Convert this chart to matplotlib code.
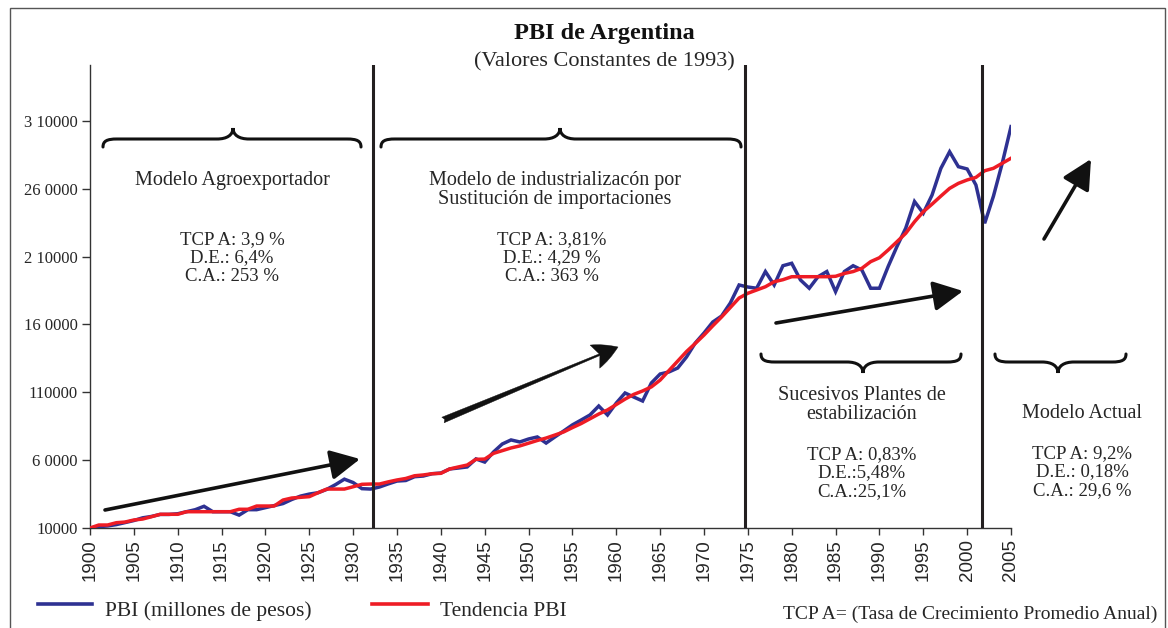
import matplotlib
matplotlib.use("Agg")
import matplotlib.pyplot as plt
from matplotlib.patches import FancyArrowPatch, PathPatch, Rectangle
from matplotlib.path import Path
from matplotlib.lines import Line2D

# ---------------- data ----------------
years = list(range(1900, 2006))
pbi = [10000, 11000, 11500, 12500, 14000, 15500, 17500, 18500, 20000, 20000,
       20500, 22000, 23500, 26000, 22000, 22000, 22000, 19500, 23500, 23500,
       25000, 26500, 28000, 31000, 33500, 35000, 36000, 38500, 42000, 46000,
       43500, 39000, 38700, 40200, 42500, 44600, 45000, 47800, 48300, 50000,
       50500, 53500, 54200, 55000, 60900, 58600, 66000, 71900, 74900, 73400,
       75600, 77100, 72600, 77100, 81500, 86000, 89600, 93300, 99900, 93300,
       102100, 109500, 106500, 103600, 116900, 123500, 125000, 127900, 136000, 146300,
       153700, 161800, 166200, 175800, 189100, 187600, 186700, 199000, 189100, 203300,
       205100, 192800, 186700, 195200, 199000, 184200, 199000, 203300, 200100, 186700,
       186700, 202800, 217500, 231000, 250600, 242000, 255400, 275000, 287300, 276300,
       274600, 262800, 234600, 254600, 278800, 305800]
tendencia = [10000, 12200, 12200, 13900, 14400, 15900, 16600, 18300, 20100, 20100,
             20100, 22000, 22000, 22000, 22000, 22000, 22000, 23800, 23800, 26200,
             26200, 26200, 30600, 32100, 32600, 33100, 36000, 38700, 38700, 38700,
             40400, 42200, 42400, 42400, 44000, 45400, 46500, 48500, 49100, 50000,
             50300, 53500, 55000, 56400, 60600, 60800, 65000, 67000, 69000, 70500,
             72500, 74500, 76300, 78500, 80800, 84000, 87000, 90500, 94000, 97000,
             101000, 105000, 108500, 111000, 114000, 119000, 126000, 133000, 140000, 146000,
             152200, 159000, 165500, 172500, 179500, 183000, 185400, 187800, 191500, 193000,
             195200, 195200, 195200, 195200, 195200, 195500, 197600, 199000, 201400, 206300,
             209200, 214900, 221000, 227200, 235700, 243100, 248700, 254600, 260300, 264000,
             266500, 268400, 273300, 275100, 278800, 282500]
ytick_values = [10000, 60000, 110000, 160000, 210000, 260000, 310000]
ytick_labels = ["10000", "6 0000", "110000", "16 0000", "2 10000", "26 0000", "3 10000"]
xtick_values = list(range(1900, 2006, 5))
cortes = [1932.3, 1974.7, 2001.7]

W, H = 1168, 628
def F(x, y):
    return (x / W, 1 - y / H)

SERIF = "Liberation Serif"
SANS = "Liberation Sans"
BLUE = "#2E3192"
RED = "#EE1C25"
DARK = "#231F20"
TXT = "#262626"

fig = plt.figure(figsize=(W / 100, H / 100), dpi=100)
fig.patch.set_facecolor("white")
ax = fig.add_axes([90 / W, 1 - 528 / H, (1011 - 90) / W, (528 - 65) / H])
ax.set_xlim(1900, 2005)
ax.set_ylim(10000, 10000 + 463 * 737)

ax.plot(years, pbi, color=BLUE, lw=2.5, solid_joinstyle="miter", zorder=3)
ax.plot(years, tendencia, color=RED, lw=2.5, zorder=4)

for c in cortes:
    ax.axvline(c, color=DARK, lw=2.2, zorder=5)

for s in ["top", "right"]:
    ax.spines[s].set_visible(False)
for s in ["left", "bottom"]:
    ax.spines[s].set_color("#333333")
    ax.spines[s].set_linewidth(1.0)

ax.set_yticks(ytick_values)
ax.set_yticklabels(ytick_labels, fontfamily=SERIF, fontsize=12, color=TXT)
ax.set_xticks(xtick_values)
ax.set_xticklabels([str(v) for v in xtick_values], rotation=90, fontfamily=SANS,
                   fontsize=13.5, color=TXT)
ax.tick_params(axis="y", direction="out", length=6, width=1, pad=3, colors="#333333")
ax.tick_params(axis="x", direction="out", length=5, width=1, pad=3, colors="#333333")
for lab in ax.get_yticklabels() + ax.get_xticklabels():
    lab.set_color(TXT)

# ---------------- titles ----------------
fig.text(*F(604, 33), "PBI de Argentina", fontfamily=SERIF, fontweight="bold",
         fontsize=17.5, ha="center", va="center", color="#111111")
fig.text(*F(604, 62), "(Valores Constantes de 1993)", fontfamily=SERIF,
         fontsize=16, ha="center", va="center", color=TXT)

# ---------------- annotations ----------------
def block(x, y, s, size=13.5, ls=1.12):
    fig.text(*F(x, y), s, fontfamily=SERIF, fontsize=size, ha="center", va="top",
             color=TXT, linespacing=ls, multialignment="center")

block(232, 171, "Modelo Agroexportador", size=14.5)
block(232, 231, "TCP A: 3,9 %\nD.E.: 6,4%\nC.A.: 253 %")
block(555, 171, "Modelo de industrialización por\nSustitución de importaciones".replace("ización", "izacón"), size=14.5, ls=0.98)
block(552, 231, "TCP A: 3,81%\nD.E.: 4,29 %\nC.A.: 363 %")
block(862, 386, "Sucesivos Plantes de\nestabilización", size=14.5, ls=0.98)
block(862, 446, "TCP A: 0,83%\nD.E.:5,48%\nC.A.:25,1%")
block(1082, 404, "Modelo Actual", size=14.5)
block(1082, 445, "TCP A: 9,2%\nD.E.: 0,18%\nC.A.: 29,6 %")

# ---------------- braces ----------------
def brace(xa, xb, xm, yf, up=True):
    s = -1 if up else 1      # direction of tip in pixel y
    e = 8 * -s               # ends curl opposite to tip
    pts = [(xa, yf + e),
           (xa, yf + e * 0.25), (xa + 4, yf), (xa + 14, yf),
           (xm - 16, yf),
           (xm - 6, yf), (xm, yf + 4 * s), (xm, yf + 11 * s),
           (xm, yf + 4 * s), (xm + 6, yf), (xm + 16, yf),
           (xb - 14, yf),
           (xb - 4, yf), (xb, yf + e * 0.25), (xb, yf + e)]
    codes = [Path.MOVETO, Path.CURVE4, Path.CURVE4, Path.CURVE4, Path.LINETO,
             Path.CURVE4, Path.CURVE4, Path.CURVE4, Path.CURVE4, Path.CURVE4, Path.CURVE4,
             Path.LINETO, Path.CURVE4, Path.CURVE4, Path.CURVE4]
    path = Path([F(*p) for p in pts], codes)
    fig.add_artist(PathPatch(path, transform=fig.transFigure, fill=False,
                             lw=2.2, edgecolor="#111111", capstyle="round"))

brace(103, 361, 233, 139, up=True)
brace(381, 741, 560, 139, up=True)
brace(761, 961, 863, 362, up=False)
brace(995, 1126, 1058, 362, up=False)

# ---------------- arrows ----------------
def arrow(p0, p1, style="-|>,head_length=0.75,head_width=0.38", lw=2.6, ms=24):
    a = FancyArrowPatch(F(*p0), F(*p1), transform=fig.transFigure,
                        arrowstyle=style, mutation_scale=ms, lw=lw,
                        color="#111111", shrinkA=0, shrinkB=0)
    fig.add_artist(a)

arrow((105, 510), (360, 459))
arrow((443, 420), (618, 347), style="fancy,head_length=0.75,head_width=0.75,tail_width=0.18",
      lw=0.3, ms=24)
arrow((776, 323), (963, 291))
arrow((1044, 239), (1091, 159))

# ---------------- legend & footnote ----------------
fig.add_artist(Line2D([38 / W, 92 / W], [1 - 604 / H] * 2, color=BLUE, lw=2.6,
                      transform=fig.transFigure))
fig.text(*F(105, 611), "PBI (millones de pesos)", fontfamily=SERIF, fontsize=15.5,
         ha="left", va="center", color=TXT)
fig.add_artist(Line2D([372 / W, 428 / W], [1 - 604 / H] * 2, color=RED, lw=2.6,
                      transform=fig.transFigure))
fig.text(*F(440, 611), "Tendencia PBI", fontfamily=SERIF, fontsize=15.5,
         ha="left", va="center", color=TXT)
fig.text(*F(1157, 614), "TCP A= (Tasa de Crecimiento Promedio Anual)", fontfamily=SERIF,
         fontsize=14, ha="right", va="center", color=TXT)

# outer frame
fig.add_artist(Rectangle((10 / W, -0.02), (1165 - 10) / W, 1 - 8 / H + 0.02,
                         transform=fig.transFigure, fill=False, lw=1.0,
                         edgecolor="#555555"))

fig.savefig("out.png", dpi=100)
